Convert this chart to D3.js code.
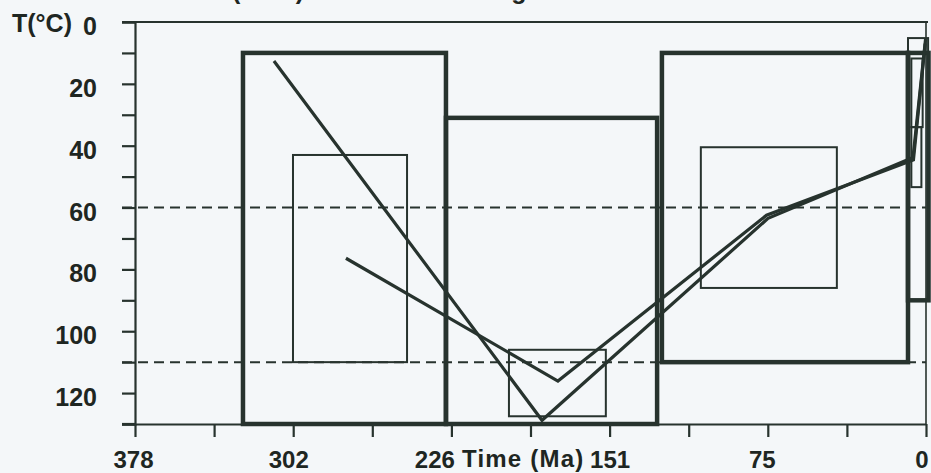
<!DOCTYPE html>
<html>
<head>
<meta charset="utf-8">
<script src="https://cdn.jsdelivr.net/npm/d3@7"></script>
<style>
  html, body { margin: 0; padding: 0; background: #f4f7f9; }
  svg { display: block; }
  text { font-family: "Liberation Sans", Arial, Helvetica, sans-serif; font-weight: bold; fill: #1e2622; }
</style>
</head>
<body>
<svg id="chart" width="931" height="473"></svg>
<script>
// ---- data ----
const titleText = "Well (1998) thermal modelling";
const yLabel = "T(\u00B0C)";
const xLabel = "Time (Ma)";
const yTickValues = [0, 10, 20, 30, 40, 50, 60, 70, 80, 90, 100, 110, 120, 130];
const yTickLabels = ["0", "", "20", "", "40", "", "60", "", "80", "", "100", "", "120", ""];
const xTickValues = [378, 340.2, 302.4, 264.6, 226.8, 189, 151.2, 113.4, 75.6, 37.8, 0];
const xTickLabels = ["378", "", "302", "", "226", "", "151", "", "75", "", "0"];
const dashedLevels = [60, 110];
// thick constraint boxes: [time start, time end, T top, T bottom]
const thickBoxes = [
  [326.4, 229.4, 10, 130],
  [229.4, 128.5, 31, 130],
  [126.2, 8.6, 10, 110],
  [8.6, -1.2, 10, 90]
];
// thin boxes
const thinBoxes = [
  [302.5, 248, 43, 110],
  [199.3, 153, 106, 127.5],
  [107.6, 42.6, 40.5, 86],
  [8.6, -1.0, 5.2, 90],
  [7.0, 1.6, 11.8, 34],
  [7.0, 2.2, 34, 53.4]
];
// time-temperature paths: [time (Ma), T (°C)]
const path1 = [[311.6, 12.6], [183.5, 128.8], [75.5, 63.5], [6.2, 43.8], [0.2, 5.5]];
const path2 = [[277.2, 76.4], [175.9, 116.1], [76.2, 62.5], [6.0, 44.6], [0.4, 7]];

// ---- drawing ----
const ink = "#27332e";
const svg = d3.select("#chart");
const x = d3.scaleLinear().domain([378, 0]).range([135, 926]);
const y = d3.scaleLinear().domain([0, 130]).range([22, 424]);

// title (cut off at the top edge, as in the reference)
svg.append("text").attr("x", 174).attr("y", -1).attr("font-size", 25).text(titleText);

// frame
svg.append("line").attr("x1", 122).attr("x2", 928).attr("y1", y(0)).attr("y2", y(0))
  .attr("stroke", ink).attr("stroke-width", 2);
svg.append("line").attr("x1", x(0)).attr("x2", x(0)).attr("y1", y(0)).attr("y2", y(130))
  .attr("stroke", ink).attr("stroke-width", 1.6);

// y axis
const yAxis = d3.axisLeft(y).tickValues(yTickValues).tickSize(13).tickPadding(25)
  .tickFormat((d, i) => yTickLabels[i]);
const gy = svg.append("g").attr("transform", `translate(${x(378)},0)`).call(yAxis);
gy.select(".domain").attr("stroke", ink).attr("stroke-width", 2.2);
gy.selectAll(".tick line").attr("stroke", ink).attr("stroke-width", 2.2);
gy.selectAll(".tick text").attr("font-size", 25).attr("font-family", null).attr("dy", "0.5em")
  .attr("x", -38).attr("fill", "#1e2622");

// x axis
const xAxis = d3.axisBottom(x).tickValues(xTickValues).tickSize(13).tickPadding(14)
  .tickFormat((d, i) => xTickLabels[i]);
const gx = svg.append("g").attr("transform", `translate(0,${y(130)})`).call(xAxis);
gx.select(".domain").attr("stroke", ink).attr("stroke-width", 2.2)
  .attr("d", `M122,0.5H${x(0)}`);
gx.selectAll(".tick line").attr("stroke", ink).attr("stroke-width", 2.2);
gx.selectAll(".tick text").attr("font-size", 24).attr("font-family", null).attr("fill", "#1e2622")
  .each(function (d, i) {
    const t = d3.select(this);
    const lab = xTickLabels[i];
    if (lab === "226") t.attr("text-anchor", "end").attr("x", 3);
    else if (lab === "0") t.attr("text-anchor", "end").attr("x", 2);
    else if (lab === "302") t.attr("x", -5);
    else if (lab === "75") t.attr("x", -6);
    else if (lab === "378") t.attr("x", -2);
  });
// y bottom extension tick
svg.append("line").attr("x1", 122).attr("x2", x(378)).attr("y1", y(130)).attr("y2", y(130))
  .attr("stroke", ink).attr("stroke-width", 2.2);

// axis labels
svg.append("text").attr("x", 12).attr("y", y(0) + 10).attr("font-size", 25).text(yLabel);
svg.append("text").attr("x", 462).attr("y", y(130) + 43).attr("font-size", 24)
  .attr("letter-spacing", 1.2).text(xLabel);

// dashed levels
svg.selectAll("line.dash").data(dashedLevels).join("line").attr("class", "dash")
  .attr("x1", 122).attr("x2", x(0)).attr("y1", d => y(d)).attr("y2", d => y(d))
  .attr("stroke", ink).attr("stroke-width", 2).attr("stroke-dasharray", "10,6");

// thin boxes
svg.selectAll("rect.thin").data(thinBoxes).join("rect").attr("class", "thin")
  .attr("x", d => x(d[0])).attr("y", d => y(d[2]))
  .attr("width", d => x(d[1]) - x(d[0])).attr("height", d => y(d[3]) - y(d[2]))
  .attr("fill", "none").attr("stroke", ink).attr("stroke-width", 2);

// thick boxes
svg.selectAll("rect.thick").data(thickBoxes).join("rect").attr("class", "thick")
  .attr("x", d => x(d[0])).attr("y", d => y(d[2]))
  .attr("width", d => x(d[1]) - x(d[0])).attr("height", d => y(d[3]) - y(d[2]))
  .attr("fill", "none").attr("stroke", ink).attr("stroke-width", 4.5);

// paths
const line = d3.line().x(d => x(d[0])).y(d => y(d[1]));
svg.selectAll("path.tt").data([path1, path2]).join("path").attr("class", "tt")
  .attr("d", line).attr("fill", "none").attr("stroke", ink).attr("stroke-width", 3.2)
  .attr("stroke-linejoin", "miter");
</script>
</body>
</html>
